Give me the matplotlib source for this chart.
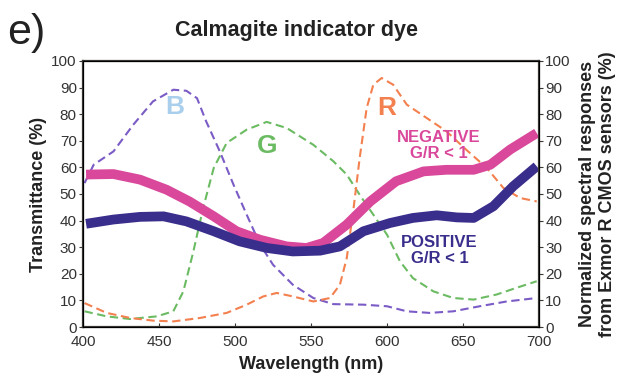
import matplotlib.pyplot as plt
import numpy as np

plt.rcParams['font.family'] = ['Liberation Sans', 'DejaVu Sans']

# transmittance curves (%)
neg_x = [402, 420, 437.5, 455, 470, 486, 501, 516.5, 534, 547, 558, 573.5, 589, 606, 624, 639, 657, 668, 681, 698.5]
neg_y = [57.3, 57.5, 55.4, 51.6, 47.2, 41.6, 36, 32.8, 30.3, 29.7, 31.6, 38.5, 47.2, 54.8, 58.5, 59.1, 59.1, 61, 66.7, 72.9]
pos_x = [402, 420, 437.5, 453, 468, 486, 503, 521, 538, 556, 569, 584.5, 602, 617, 632.7, 646, 657, 670, 683, 698.5]
pos_y = [38.8, 40.4, 41.4, 41.6, 39.7, 36, 32.2, 29.7, 28.4, 28.7, 30.3, 36, 39.1, 41, 42, 41.2, 41, 45.4, 52.9, 60.4]

# normalized sensor responses (%)
b_x = [401, 407, 420, 433, 446, 459.4, 468, 475, 481, 490, 499, 507.7, 516.5, 525, 538, 551.5, 564.7,
       584.4, 600, 613, 628, 643.6, 661, 678.7, 698.5]
b_y = [54.1, 61, 66, 76, 84.8, 89.2, 88.8, 86, 77.3, 66, 53.5, 42.2, 31, 23.4, 15.9, 10.9, 8.6,
       8.4, 7.8, 5.9, 5.3, 5.9, 7.8, 9.6, 10.9]
g_x = [401, 415.6, 431, 448.5, 459.4, 466, 472.6, 479, 486, 494.5, 507.7, 520.8, 534, 551.5, 564.7, 573.5,
       582, 591, 600, 608.5, 617, 630.5, 643.6, 657, 672, 685, 698.5]
g_y = [5.9, 4, 3, 4, 5.9, 13.4, 28.4, 44.7, 59.8, 69.2, 74.2, 77.1, 74.8, 68.5, 62.3, 57.3,
       49.7, 42.2, 34.7, 24.7, 18.4, 13.4, 10.9, 10.3, 12.2, 14.7, 17.2]
r_x = [401, 415.6, 431, 446, 459.4, 477, 494.5, 507.7, 518.6, 527.4, 538, 551.5, 562.5, 569, 573.5, 578,
       582, 586.6, 591, 596.5, 604, 613, 626, 639, 652, 665.6, 676.5, 687.5, 698.5]
r_y = [9, 5.3, 3.4, 2.4, 2.1, 3.4, 5.3, 8.4, 11.5, 12.8, 11.5, 9.6, 10.9, 15.9, 25.9, 44.7,
       63.5, 82.3, 91.1, 93.6, 91.1, 83.6, 78.6, 73.6, 66.7, 59.8, 52.3, 48.5, 47.2]

spine_col = '#3b3733'
text_col = '#333333'
dash = (0, (4, 2.2))
fig = plt.figure(figsize=(6.21, 3.76), dpi=100)
ax = fig.add_axes([0.1337, 0.1303, 0.7343, 0.7075])

ax.plot(b_x, b_y, color='#7b5cc6', lw=1.5, ls=dash)
ax.plot(g_x, g_y, color='#6bbb62', lw=1.5, ls=dash)
ax.plot(r_x, r_y, color='#f3804f', lw=1.5, ls=dash)
ax.plot(neg_x, neg_y, color='#d9489a', lw=7, solid_capstyle='butt', solid_joinstyle='round')
ax.plot(pos_x, pos_y, color='#3a2e8c', lw=7, solid_capstyle='butt', solid_joinstyle='round')

ax.text(460.5, 82.7, 'B', color='#a9cfec', fontsize=19, fontweight='bold', ha='center', va='center')
ax.text(521, 67.9, 'G', color='#6bbb62', fontsize=19, fontweight='bold', ha='center', va='center')
ax.text(600, 82.3, 'R', color='#f3804f', fontsize=19, fontweight='bold', ha='center', va='center')
ax.text(634, 68.2, 'NEGATIVE\nG/R < 1', color='#d9489a', fontsize=12, fontweight='bold',
        ha='center', va='center', linespacing=1.1)
ax.text(634.5, 28.7, 'POSITIVE\nG/R < 1', color='#3a2e8c', fontsize=12, fontweight='bold',
        ha='center', va='center', linespacing=1.1)

ax.set_xlim(400, 700)
ax.set_ylim(0, 100)
ax.set_xticks(np.arange(400, 701, 50))
ax.set_yticks(np.arange(0, 101, 10))
ax.tick_params(axis='x', direction='in', length=3, labelsize=11, pad=6, color=spine_col, labelcolor=text_col)
ax.tick_params(axis='y', direction='out', length=3, labelsize=11, pad=1.5, color=spine_col, labelcolor=text_col)
for s in ax.spines.values():
    s.set_color(spine_col)
    s.set_linewidth(1.6)
ax.set_xlabel('Wavelength (nm)', fontsize=13, fontweight='bold', color='#222222', labelpad=5)
ax.set_ylabel('Transmittance (%)', fontsize=13, fontweight='bold', color='#222222', labelpad=3)

ax2 = ax.twinx()
ax2.set_ylim(0, 100)
ax2.set_yticks(np.arange(0, 101, 10))
ax2.tick_params(axis='y', direction='out', length=3, labelsize=11, pad=1.5, color=spine_col, labelcolor=text_col)
ax2.set_ylabel('Normalized spectral responses\nfrom Exmor R CMOS sensors (%)', fontsize=13,
               fontweight='bold', color='#222222', labelpad=6, linespacing=1.25)

fig.text(0.012, 0.912, 'e)', fontsize=31, ha='left', va='center', color='#222222')
fig.text(0.478, 0.918, 'Calmagite indicator dye', fontsize=15.5, fontweight='bold',
         ha='center', va='center', color='#222222')

fig.savefig('out.png', dpi=100)
